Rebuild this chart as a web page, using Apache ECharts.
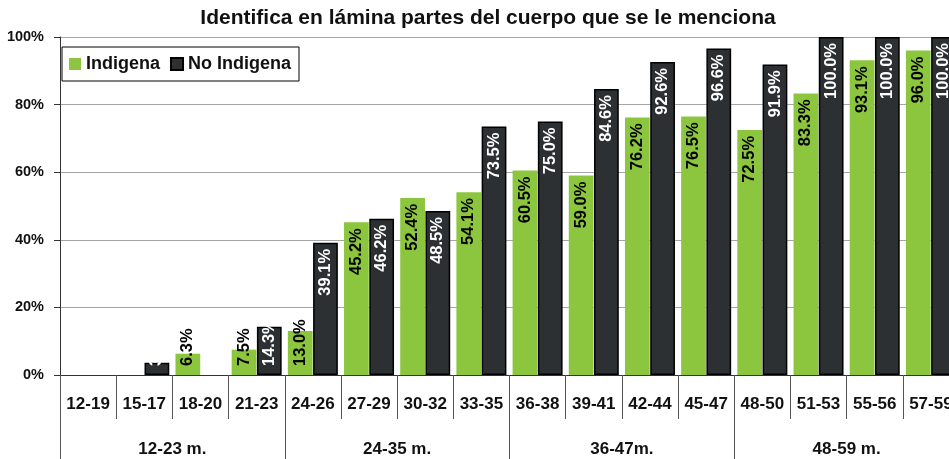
<!DOCTYPE html>
<html>
<head>
<meta charset="utf-8">
<script src="https://cdn.jsdelivr.net/npm/echarts@6/dist/echarts.min.js"></script>
<style>
  html, body { margin: 0; padding: 0; background: #fff; }
  #chart { width: 949px; height: 459px; }
</style>
</head>
<body>
<div id="chart"></div>
<script>
// Age ranges (months) and the four age groups they belong to
const categories = ['12-19', '15-17', '18-20', '21-23', '24-26', '27-29', '30-32', '33-35',
                    '36-38', '39-41', '42-44', '45-47', '48-50', '51-53', '55-56', '57-59'];
const groups = ['12-23 m.', '24-35 m.', '36-47m.', '48-59 m.'];

// Percentage of children who identify body parts
const indigena   = [0, 0, 6.3, 7.5, 13.0, 45.2, 52.4, 54.1, 60.5, 59.0, 76.2, 76.5, 72.5, 83.3, 93.1, 96.0];
const noIndigena = [0, 3.6, 0, 14.3, 39.1, 46.2, 48.5, 73.5, 75.0, 84.6, 92.6, 96.6, 91.9, 100.0, 100.0, 100.0];

const yTicks = [0, 20, 40, 60, 80, 100];

const FONT = "'Liberation Sans', Arial, sans-serif";
const GREEN = '#8cc63f';
const DARK = '#2d3033';

// Short bars get their label anchored at the base, taller ones at the top;
// empty cells draw no bar at all
function barData(values, textColor) {
  return values.map(v => {
    if (!v) return '-';
    const low = v < 18;
    return {
      value: v,
      label: {
        show: true,
        position: low ? 'insideBottom' : 'insideTop',
        distance: low ? 9 : 6,
        rotate: 90,
        align: low ? 'left' : 'right',
        verticalAlign: 'middle',
        color: textColor
      }
    };
  });
}

const chart = echarts.init(document.getElementById('chart'), null, { renderer: 'canvas' });

const labelStyle = {
  fontFamily: FONT,
  fontWeight: 'bold',
  fontSize: 16.5,
  formatter: p => p.value.toFixed(1) + '%'
};

chart.setOption({
  animation: false,
  backgroundColor: '#fff',
  textStyle: { fontFamily: FONT },
  title: {
    text: 'Identifica en lámina partes del cuerpo que se le menciona',
    left: 488,
    top: 8,
    textAlign: 'center',
    padding: 0,
    textStyle: { fontFamily: FONT, fontWeight: 'bold', fontSize: 21, color: '#111' }
  },
  legend: {
    left: 62,
    top: 47,
    orient: 'horizontal',
    backgroundColor: '#fff',
    borderColor: '#000',
    borderWidth: 1,
    borderRadius: 0,
    padding: [8, 8, 8, 7],
    itemWidth: 12,
    itemHeight: 12,
    itemGap: 10,
    textStyle: { fontFamily: FONT, fontWeight: 'bold', fontSize: 18, color: '#111' },
    data: [
      { name: 'Indigena', icon: 'rect' },
      { name: 'No Indigena', icon: 'rect' }
    ]
  },
  grid: { left: 60, right: -10, top: 37, bottom: 84, containLabel: false, outerBoundsMode: 'none' },
  xAxis: [
    {
      type: 'category',
      data: categories,
      position: 'bottom',
      axisLine: { show: true, lineStyle: { color: '#333', width: 1 } },
      axisTick: { show: true, interval: 0, length: 44, lineStyle: { color: '#555' } },
      axisLabel: {
        interval: 0, margin: 21,
        fontFamily: FONT, fontWeight: 'bold', fontSize: 17, color: '#111'
      }
    },
    {
      type: 'category',
      data: groups,
      position: 'bottom',
      offset: 44,
      axisLine: { show: false },
      axisTick: { show: true, interval: 0, length: 45, lineStyle: { color: '#555' } },
      axisLabel: {
        interval: 0, margin: 22,
        fontFamily: FONT, fontWeight: 'bold', fontSize: 17, color: '#111'
      }
    }
  ],
  yAxis: {
    type: 'value',
    min: yTicks[0],
    max: yTicks[yTicks.length - 1],
    interval: 20,
    axisLine: { show: true, lineStyle: { color: '#333' } },
    axisTick: { show: true, length: 6, lineStyle: { color: '#333' } },
    splitLine: { show: true, lineStyle: { color: '#a6a6a6', width: 1 } },
    axisLabel: {
      margin: 16,
      formatter: '{value}%',
      fontFamily: FONT, fontWeight: 'bold', fontSize: 14.5, color: '#111'
    }
  },
  series: [
    {
      name: 'Indigena',
      type: 'bar',
      xAxisIndex: 0,
      barGap: '2%',
      barCategoryGap: '11%',
      itemStyle: { color: GREEN },
      label: labelStyle,
      data: barData(indigena, '#000')
    },
    {
      name: 'No Indigena',
      type: 'bar',
      xAxisIndex: 0,
      barGap: '2%',
      barCategoryGap: '11%',
      itemStyle: { color: DARK, borderColor: '#000', borderWidth: 1.5 },
      label: labelStyle,
      data: barData(noIndigena, '#fff')
    }
  ]
});
</script>
</body>
</html>
